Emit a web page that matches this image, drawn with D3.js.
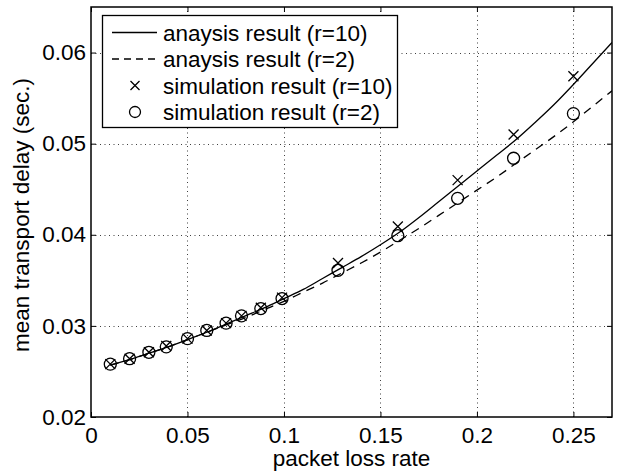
<!DOCTYPE html>
<html>
<head>
<meta charset="utf-8">
<script src="https://cdn.jsdelivr.net/npm/d3@7"></script>
<style>
  html, body { margin: 0; padding: 0; background: #fff; }
  svg { display: block; }
  text { font-family: "Liberation Sans", Arial, Helvetica, sans-serif; fill: #000; }
</style>
</head>
<body>
<svg id="chart" width="619" height="475"></svg>
<script>
// ---- data ----
const analysisX = [0.01,0.02,0.03,0.04,0.05,0.06,0.07,0.08,0.09,0.10,0.11,0.12,0.13,0.14,0.15,0.16,0.17,0.18,0.19,0.20,0.21,0.22,0.23,0.24,0.25,0.26,0.27];
const analysisR10 = [0.0257,0.0263,0.0270,0.0277,0.0285,0.0293,0.0302,0.0311,0.0320,0.0330,0.0340,0.0352,0.0364,0.0376,0.0389,0.0403,0.0419,0.0436,0.0453,0.0470,0.0487,0.0504,0.0523,0.0543,0.0565,0.0588,0.0611];
const analysisR2  = [0.0257,0.0263,0.0270,0.0277,0.0285,0.0293,0.0301,0.0309,0.0318,0.0327,0.0337,0.0347,0.0358,0.0369,0.0381,0.0394,0.0407,0.0421,0.0435,0.0449,0.0463,0.0478,0.0493,0.0508,0.0524,0.0541,0.0558];
const simX   = [0.01,0.02,0.03,0.039,0.05,0.06,0.07,0.078,0.088,0.099,0.128,0.159,0.19,0.219,0.25];
const simR10 = [0.0258,0.0264,0.0271,0.0278,0.0286,0.0295,0.0303,0.0311,0.0320,0.0331,0.0369,0.0409,0.0460,0.0510,0.0574];
const simR2  = [0.0258,0.0264,0.0271,0.0277,0.0286,0.0295,0.0303,0.0311,0.0319,0.0330,0.0361,0.0399,0.0440,0.0484,0.0533];
const xTicks = [0, 0.05, 0.1, 0.15, 0.2, 0.25];
const yTicks = [0.02, 0.03, 0.04, 0.05, 0.06];
const xTickLabels = ["0", "0.05", "0.1", "0.15", "0.2", "0.25"];
const yTickLabels = ["0.02", "0.03", "0.04", "0.05", "0.06"];
const legendLabels = ["anaysis result (r=10)", "anaysis result (r=2)", "simulation result (r=10)", "simulation result (r=2)"];
const xLabel = "packet loss rate";
const yLabel = "mean transport delay (sec.)";

// ---- layout ----
const svg = d3.select("#chart");
const L = 91, R = 612, T = 7, B = 417;
const FS = 22.5;
const x = d3.scaleLinear().domain([0, 0.27]).range([L, R]);
const y = d3.scaleLinear().domain([0.02, 0.065]).range([B, T]);

// grid
const grid = svg.append("g").attr("stroke", "#000").attr("stroke-width", 1)
  .attr("stroke-dasharray", "1,3.5").attr("opacity", 0.75);
grid.selectAll(".gx").data(xTicks.filter(d => d > 0)).join("line")
  .attr("x1", d => Math.round(x(d)) + 0.5).attr("x2", d => Math.round(x(d)) + 0.5)
  .attr("y1", B).attr("y2", T);
grid.selectAll(".gy").data(yTicks.filter(d => d > 0.02)).join("line")
  .attr("y1", d => Math.round(y(d)) + 0.5).attr("y2", d => Math.round(y(d)) + 0.5)
  .attr("x1", L).attr("x2", R);

// axes (ticks inward, box)
const tickLen = 5;
const xAxisB = d3.axisBottom(x).tickValues(xTicks).tickFormat((d, i) => xTickLabels[i]).tickSize(-tickLen).tickPadding(10);
const xAxisT = d3.axisTop(x).tickValues(xTicks).tickFormat("").tickSize(-tickLen);
const yAxisL = d3.axisLeft(y).tickValues(yTicks).tickFormat((d, i) => yTickLabels[i]).tickSize(-tickLen).tickPadding(5);
const yAxisR = d3.axisRight(y).tickValues(yTicks).tickFormat("").tickSize(-tickLen);

function styleAxis(g) {
  g.select(".domain").remove();
  g.selectAll(".tick line").attr("stroke", "#000").attr("stroke-width", 1);
  g.selectAll(".tick text").attr("font-size", FS).attr("fill", "#000")
    .attr("font-family", '"Liberation Sans", Arial, sans-serif');
}
svg.append("g").attr("transform", `translate(0,${B})`).call(xAxisB).call(styleAxis);
svg.append("g").attr("transform", `translate(0,${T})`).call(xAxisT).call(styleAxis);
svg.append("g").attr("transform", `translate(${L},0)`).call(yAxisL).call(styleAxis);
svg.append("g").attr("transform", `translate(${R},0)`).call(yAxisR).call(styleAxis);

svg.append("rect").attr("x", L).attr("y", T).attr("width", R - L).attr("height", B - T)
  .attr("fill", "none").attr("stroke", "#000").attr("stroke-width", 1.5);

// lines
const lineGen = d3.line().x(d => x(d[0])).y(d => y(d[1]));
const r10 = analysisX.map((d, i) => [d, analysisR10[i]]);
const r2  = analysisX.map((d, i) => [d, analysisR2[i]]);
svg.append("clipPath").attr("id", "clip").append("rect")
  .attr("x", L).attr("y", T).attr("width", R - L).attr("height", B - T);
const plot = svg.append("g").attr("clip-path", "url(#clip)");
plot.append("path").datum(r2).attr("d", lineGen.curve(d3.curveMonotoneX))
  .attr("fill", "none").attr("stroke", "#000").attr("stroke-width", 1.3).attr("stroke-dasharray", "8.5,6.5");
plot.append("path").datum(r10).attr("d", lineGen.curve(d3.curveMonotoneX))
  .attr("fill", "none").attr("stroke", "#000").attr("stroke-width", 1.3);

// markers
function cross(g, cx, cy, s) {
  g.append("path").attr("d", `M${cx - s},${cy - s}L${cx + s},${cy + s}M${cx - s},${cy + s}L${cx + s},${cy - s}`)
    .attr("stroke", "#000").attr("stroke-width", 1.3).attr("fill", "none");
}
function circ(g, cx, cy, r) {
  g.append("circle").attr("cx", cx).attr("cy", cy).attr("r", r)
    .attr("stroke", "#000").attr("stroke-width", 1.3).attr("fill", "none");
}
const mk = svg.append("g");
simX.forEach((d, i) => cross(mk, x(d), y(simR10[i]), 5));
simX.forEach((d, i) => circ(mk, x(d), y(simR2[i]), 6));

// axis labels
svg.append("text").attr("x", (L + R) / 2).attr("y", 466).attr("text-anchor", "middle")
  .attr("font-size", FS).text(xLabel);
svg.append("text").attr("transform", `translate(28.5,${(T + B) / 2 + 3}) rotate(-90)`)
  .attr("text-anchor", "middle").attr("font-size", FS).text(yLabel);

// legend
const lg = svg.append("g");
lg.append("rect").attr("x", 102.5).attr("y", 15.5).attr("width", 295).attr("height", 112)
  .attr("fill", "#fff").attr("stroke", "#000").attr("stroke-width", 1.3);
const rowY = [32.5, 59, 85.5, 112];
legendLabels.forEach((t, i) => {
  const cy = rowY[i];
  if (i === 0) lg.append("line").attr("x1", 112).attr("x2", 157).attr("y1", cy).attr("y2", cy)
    .attr("stroke", "#000").attr("stroke-width", 1.3);
  if (i === 1) lg.append("line").attr("x1", 112).attr("x2", 157).attr("y1", cy).attr("y2", cy)
    .attr("stroke", "#000").attr("stroke-width", 1.3).attr("stroke-dasharray", "7,5");
  if (i === 2) cross(lg, 135, cy, 4.5);
  if (i === 3) circ(lg, 135, cy, 5.5);
  lg.append("text").attr("x", 163).attr("y", cy + 8).attr("font-size", FS).text(t);
});
</script>
</body>
</html>
